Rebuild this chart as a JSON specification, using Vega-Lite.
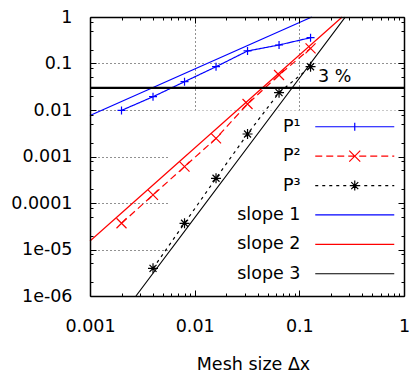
{
  "$schema": "https://vega.github.io/schema/vega-lite/v6.json",
  "width": 314,
  "height": 279,
  "autosize": {"type": "none"},
  "padding": {"left": 90, "top": 17, "right": 9, "bottom": 78},
  "config": {
    "font": "DejaVu Sans",
    "view": {"stroke": null},
    "axis": {"labelColor": "black", "tickColor": "black", "domainColor": "black", "labelFontSize": 17.5, "titleColor": "black", "titleFontSize": 17.5, "titleFontWeight": "normal", "labelFlush": false, "labelOverlap": false}
  },
  "resolve": {
    "scale": {"color": "independent", "shape": "independent", "strokeDash": "independent"},
    "axis": {"x": "independent", "y": "independent"}
  },
  "layer": [
    {
      "data": {"values": [{"box": "key"}]},
      "mark": {"type": "rect", "fill": "white"},
      "encoding": {
        "x": {"datum": 0.0058, "type": "quantitative", "scale": {"type": "log", "domain": [0.001, 1], "nice": false},
          "axis": {"orient": "bottom", "values": [0.01, 0.1], "grid": true, "gridDash": [1, 3], "gridColor": "#222", "gridWidth": 1, "ticks": false, "labels": false, "domain": false, "title": null, "zindex": 0}},
        "x2": {"datum": 1},
        "y": {"datum": 0.000001, "type": "quantitative", "scale": {"type": "log", "domain": [0.000001, 1], "nice": false},
          "axis": {"orient": "left", "values": [0.1, 0.01, 0.001, 0.0001, 0.00001], "grid": true, "gridDash": [1, 3], "gridColor": "#222", "gridWidth": 1, "ticks": false, "labels": false, "domain": false, "title": null, "zindex": 0}},
        "y2": {"datum": 0.0097}
      }
    },
    {
      "data": {"values": [
        {"series": "slope 1", "dx": 0.001, "err": 0.0076},
        {"series": "slope 1", "dx": 0.1316, "err": 1},
        {"series": "slope 2", "dx": 0.001, "err": 0.0000152},
        {"series": "slope 2", "dx": 0.2565, "err": 1},
        {"series": "slope 3", "dx": 0.00275, "err": 0.000001},
        {"series": "slope 3", "dx": 0.275, "err": 1}
      ]},
      "mark": {"type": "line", "strokeWidth": 1.2},
      "encoding": {
        "x": {"field": "dx", "type": "quantitative", "scale": {"type": "log", "domain": [0.001, 1], "nice": false},
          "axis": {"orient": "bottom", "values": [0.001, 0.01, 0.1, 1], "format": "~g", "tickSize": -6, "domain": true, "domainWidth": 1.5, "grid": false, "labelPadding": 27, "zindex": 1,
            "title": "Mesh size Δx", "titleX": 163, "titleY": 73, "titleBaseline": "alphabetic", "titleAlign": "center"}},
        "y": {"field": "err", "type": "quantitative", "scale": {"type": "log", "domain": [0.000001, 1], "nice": false},
          "axis": {"orient": "left", "values": [1, 0.1, 0.01, 0.001, 0.0001, 0.00001, 0.000001], "labelExpr": "datum.value < 0.00005 ? (datum.value < 0.000005 ? '1e-06' : '1e-05') : format(datum.value, '~g')", "tickSize": -6, "domain": true, "domainWidth": 1.5, "grid": false, "labelPadding": 24, "title": null, "zindex": 1}},
        "color": {"field": "series", "type": "nominal", "scale": {"domain": ["slope 1", "slope 2", "slope 3"], "range": ["#0000ff", "#ff0000", "#000000"]}, "legend": null}
      }
    },
    {
      "data": {"name": "runs", "values": [
        {"series": "P¹", "dx": 0.002, "err": 0.0098},
        {"series": "P¹", "dx": 0.004, "err": 0.0193},
        {"series": "P¹", "dx": 0.008, "err": 0.0406},
        {"series": "P¹", "dx": 0.016, "err": 0.0853},
        {"series": "P¹", "dx": 0.032, "err": 0.186},
        {"series": "P¹", "dx": 0.064, "err": 0.25},
        {"series": "P¹", "dx": 0.128, "err": 0.359},
        {"series": "P²", "dx": 0.002, "err": 0.0000366},
        {"series": "P²", "dx": 0.004, "err": 0.000149},
        {"series": "P²", "dx": 0.008, "err": 0.000604},
        {"series": "P²", "dx": 0.016, "err": 0.00246},
        {"series": "P²", "dx": 0.032, "err": 0.01346},
        {"series": "P²", "dx": 0.064, "err": 0.0566},
        {"series": "P²", "dx": 0.128, "err": 0.212},
        {"series": "P³", "dx": 0.004, "err": 0.00000394},
        {"series": "P³", "dx": 0.008, "err": 0.0000366},
        {"series": "P³", "dx": 0.016, "err": 0.00034},
        {"series": "P³", "dx": 0.032, "err": 0.00305},
        {"series": "P³", "dx": 0.064, "err": 0.0236},
        {"series": "P³", "dx": 0.128, "err": 0.0853}
      ]},
      "mark": {"type": "line", "strokeWidth": 1.2},
      "encoding": {
        "x": {"field": "dx", "type": "quantitative", "scale": {"type": "log", "domain": [0.001, 1], "nice": false},
          "axis": {"orient": "bottom", "values": [0.002, 0.003, 0.004, 0.005, 0.006, 0.007, 0.008, 0.009, 0.02, 0.03, 0.04, 0.05, 0.06, 0.07, 0.08, 0.09, 0.2, 0.3, 0.4, 0.5, 0.6, 0.7, 0.8, 0.9], "tickSize": -3, "labels": false, "domain": false, "grid": false, "title": null, "zindex": 1}},
        "y": {"field": "err", "type": "quantitative", "scale": {"type": "log", "domain": [0.000001, 1], "nice": false},
          "axis": {"orient": "left", "values": [0.8, 0.5, 0.2, 0.08, 0.05, 0.02, 0.008, 0.005, 0.002, 0.0008, 0.0005, 0.0002, 0.00008, 0.00005, 0.00002, 0.000008, 0.000005, 0.000002], "tickSize": -3, "labels": false, "domain": false, "grid": false, "title": null, "zindex": 1}},
        "color": {"field": "series", "type": "nominal", "scale": {"domain": ["P¹", "P²", "P³"], "range": ["#0000ff", "#ff0000", "#000000"]}, "legend": null},
        "strokeDash": {"field": "series", "type": "nominal", "scale": {"domain": ["P¹", "P²", "P³"], "range": [[1, 0], [7, 4], [3, 4]]}, "legend": null}
      }
    },
    {
      "data": {"name": "runs"},
      "mark": {"type": "point", "filled": false, "size": 100, "strokeWidth": 1.2, "opacity": 1},
      "encoding": {
        "x": {"field": "dx", "type": "quantitative", "scale": {"type": "log", "domain": [0.001, 1], "nice": false},
          "axis": {"orient": "top", "values": [0.001, 0.01, 0.1, 1], "tickSize": -6, "labels": false, "domain": true, "domainWidth": 1.5, "grid": false, "title": null, "zindex": 1}},
        "y": {"field": "err", "type": "quantitative", "scale": {"type": "log", "domain": [0.000001, 1], "nice": false},
          "axis": {"orient": "right", "values": [1, 0.1, 0.01, 0.001, 0.0001, 0.00001, 0.000001], "tickSize": -6, "labels": false, "domain": true, "domainWidth": 1.5, "grid": false, "title": null, "zindex": 1}},
        "color": {"field": "series", "type": "nominal", "scale": {"domain": ["P¹", "P²", "P³"], "range": ["#0000ff", "#ff0000", "#000000"]}, "legend": null},
        "shape": {"field": "series", "type": "nominal", "scale": {"domain": ["P¹", "P²", "P³"], "range": ["M-0.8,0H0.8M0,-0.8V0.8", "M-1,-1L1,1M-1,1L1,-1", "M-1,0H1M0,-1V1M-0.7,-0.7L0.7,0.7M-0.7,0.7L0.7,-0.7"]}, "legend": null}
      }
    },
    {
      "data": {"values": [{"level": "3 %"}]},
      "mark": {"type": "rule", "color": "black", "strokeWidth": 2.3},
      "encoding": {
        "x": {"datum": 0.001, "type": "quantitative", "scale": {"type": "log", "domain": [0.001, 1], "nice": false},
          "axis": {"orient": "top", "values": [0.002, 0.003, 0.004, 0.005, 0.006, 0.007, 0.008, 0.009, 0.02, 0.03, 0.04, 0.05, 0.06, 0.07, 0.08, 0.09, 0.2, 0.3, 0.4, 0.5, 0.6, 0.7, 0.8, 0.9], "tickSize": -3, "labels": false, "domain": false, "grid": false, "title": null, "zindex": 1}},
        "x2": {"datum": 1},
        "y": {"datum": 0.03, "type": "quantitative", "scale": {"type": "log", "domain": [0.000001, 1], "nice": false},
          "axis": {"orient": "right", "values": [0.8, 0.5, 0.2, 0.08, 0.05, 0.02, 0.008, 0.005, 0.002, 0.0008, 0.0005, 0.0002, 0.00008, 0.00005, 0.00002, 0.000008, 0.000005, 0.000002], "tickSize": -3, "labels": false, "domain": false, "grid": false, "title": null, "zindex": 1}}
      }
    },
    {
      "data": {"values": [{"level": "3 %"}]},
      "mark": {"type": "text", "align": "left", "baseline": "alphabetic", "fontSize": 17.5, "color": "black"},
      "encoding": {
        "x": {"datum": 0.1506, "type": "quantitative", "scale": {"type": "log", "domain": [0.001, 1], "nice": false}, "axis": null},
        "y": {"datum": 0.0406, "type": "quantitative", "scale": {"type": "log", "domain": [0.000001, 1], "nice": false}, "axis": null},
        "text": {"field": "level", "type": "nominal"}
      }
    },
    {
      "data": {"values": [
        {"series": "P¹"}, {"series": "P²"}, {"series": "P³"},
        {"series": "slope 1"}, {"series": "slope 2"}, {"series": "slope 3"}
      ]},
      "mark": {"type": "point", "filled": false, "opacity": 0, "size": 100},
      "encoding": {
        "color": {"field": "series", "type": "nominal",
          "scale": {"domain": ["P¹", "P²", "P³", "slope 1", "slope 2", "slope 3"], "range": ["#0000ff", "#ff0000", "#000000", "#0000ff", "#ff0000", "#000000"]},
          "legend": {"orient": "none", "legendX": 256, "legendY": 101, "title": null, "direction": "vertical", "padding": 0,
            "labelAlign": "right", "labelOffset": -63, "labelFontSize": 17.5, "labelColor": "black", "labelLimit": 0,
            "symbolSize": 100, "symbolStrokeWidth": 1.2, "symbolOpacity": 1, "rowPadding": 10.4}},
        "shape": {"field": "series", "type": "nominal",
          "scale": {"domain": ["P¹", "P²", "P³", "slope 1", "slope 2", "slope 3"], "range": [
            "M-7.9,0H7.9M0,-0.8V0.8",
            "M-7.9,0h1.4M-5.7,0h1.4M-3.5,0h1.4M-1.3,0h1.4M0.9,0h1.4M3.1,0h1.4M5.3,0h1.4M7.5,0h0.4M-1.1,-1.1L1.1,1.1M-1.1,1.1L1.1,-1.1",
            "M-7.9,0h0.6M-6.5,0h0.6M-5.1,0h0.6M-3.7,0h0.6M-2.3,0h0.6M-0.9,0h0.6M0.5,0h0.6M1.9,0h0.6M3.3,0h0.6M4.7,0h0.6M6.1,0h0.6M7.5,0h0.4M-1,0H1M0,-1V1M-0.7,-0.7L0.7,0.7M-0.7,0.7L0.7,-0.7",
            "M-7.9,0H7.9",
            "M-7.9,0H7.9",
            "M-7.9,0H7.9"]},
          "legend": {"orient": "none", "legendX": 256, "legendY": 101, "title": null, "direction": "vertical", "padding": 0,
            "labelAlign": "right", "labelOffset": -63, "labelFontSize": 17.5, "labelColor": "black", "labelLimit": 0,
            "symbolSize": 100, "symbolStrokeWidth": 1.2, "symbolOpacity": 1, "rowPadding": 10.4}}
      }
    }
  ]
}
